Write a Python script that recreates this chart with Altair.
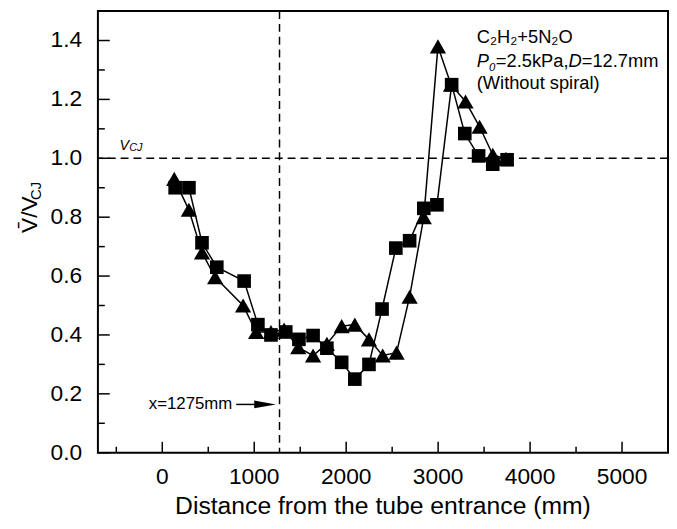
import altair as alt
import pandas as pd

# ---- data ----
sq_x = [140, 290, 432, 593, 890, 1040, 1182, 1343, 1486, 1640, 1790, 1951, 2094,
        2248, 2390, 2540, 2690, 2844, 2987, 3147, 3290, 3440, 3594, 3750]
sq_y = [0.90, 0.90, 0.713, 0.63, 0.583, 0.435, 0.40, 0.41, 0.385, 0.398, 0.355, 0.307, 0.25,
        0.30, 0.488, 0.695, 0.72, 0.83, 0.842, 1.25, 1.084, 1.008, 0.98, 0.995]
tri_x = [130, 289, 432, 575, 879, 1021, 1182, 1325, 1479, 1640, 1790, 1951, 2094,
         2248, 2397, 2548, 2690, 2844, 2998, 3140, 3298, 3451, 3594, 3737]
tri_y = [0.93, 0.825, 0.68, 0.596, 0.50, 0.41, 0.41, 0.418, 0.358, 0.33, 0.37, 0.43, 0.435,
         0.385, 0.33, 0.34, 0.53, 0.80, 1.38, 1.25, 1.193, 1.107, 1.012, 0.998]

x_major = [0, 1000, 2000, 3000, 4000, 5000]
x_minor = [-500, 500, 1500, 2500, 3500, 4500]
y_major = [0.0, 0.2, 0.4, 0.6, 0.8, 1.0, 1.2, 1.4]
y_minor = [0.1, 0.3, 0.5, 0.7, 0.9, 1.1, 1.3]
x_labels = ["0", "1000", "2000", "3000", "4000", "5000"]
y_labels = ["0.0", "0.2", "0.4", "0.6", "0.8", "1.0", "1.2", "1.4"]
x_title = "Distance from the tube entrance (mm)"

x_mark = 1275
v_cj = 1.0

FONT = "Liberation Sans"
W, H = 577, 447

df = pd.DataFrame({
    "x": sq_x + tri_x,
    "y": sq_y + tri_y,
    "s": ["sq"] * len(sq_x) + ["tri"] * len(tri_x),
})

xs = alt.Scale(domain=[-700, 5500], nice=False, zero=False)
ys = alt.Scale(domain=[0, 1.5], nice=False, zero=False)

base = alt.Chart(df)
lines = base.mark_line(color="black", strokeWidth=1.5).encode(
    x=alt.X("x:Q", scale=xs, axis=None),
    y=alt.Y("y:Q", scale=ys, axis=None),
    detail="s:N",
    order="x:Q",
)
points = base.mark_point(filled=True, color="black", opacity=1).encode(
    x=alt.X("x:Q", axis=None),
    y=alt.Y("y:Q", axis=None),
    shape=alt.Shape("s:N", scale=alt.Scale(domain=["sq", "tri"], range=["square", "triangle-up"]), legend=None),
    size=alt.Size("s:N", scale=alt.Scale(domain=["sq", "tri"], range=[190, 270]), legend=None),
)

hline = alt.Chart(pd.DataFrame({"v": [v_cj]})).mark_rule(
    color="black", strokeWidth=1.5, strokeDash=[8, 5]).encode(y=alt.Y("v:Q", axis=None))
vline = alt.Chart(pd.DataFrame({"v": [x_mark]})).mark_rule(
    color="black", strokeWidth=1.5, strokeDash=[8, 5]).encode(x=alt.X("v:Q", axis=None))

# inward ticks
xt_maj = alt.Chart(pd.DataFrame({"v": x_major})).mark_rule(color="black", strokeWidth=1.5).encode(
    x=alt.X("v:Q", axis=None), y=alt.value(H), y2=alt.value(H - 11))
xt_min = alt.Chart(pd.DataFrame({"v": x_minor})).mark_rule(color="black", strokeWidth=1.5).encode(
    x=alt.X("v:Q", axis=None), y=alt.value(H), y2=alt.value(H - 6))
yt_maj = alt.Chart(pd.DataFrame({"v": y_major})).mark_rule(color="black", strokeWidth=1.5).encode(
    y=alt.Y("v:Q", axis=None), x=alt.value(0), x2=alt.value(12))
yt_min = alt.Chart(pd.DataFrame({"v": y_minor})).mark_rule(color="black", strokeWidth=1.5).encode(
    y=alt.Y("v:Q", axis=None), x=alt.value(0), x2=alt.value(7))

# tick labels
xl = alt.Chart(pd.DataFrame({"v": x_major, "t": x_labels})).mark_text(
    font=FONT, fontSize=23, align="center", baseline="alphabetic", color="black").encode(
    x=alt.X("v:Q", axis=None), y=alt.value(H + 32), text="t:N")
yl = alt.Chart(pd.DataFrame({"v": y_major, "t": y_labels})).mark_text(
    font=FONT, fontSize=23, align="right", baseline="middle", color="black").encode(
    y=alt.Y("v:Q", axis=None), x=alt.value(-16), text="t:N")


def txt(text, x, y, size, dx=0, dy=0, italic=False, align="left", baseline="alphabetic"):
    return alt.Chart(pd.DataFrame({"t": [text], "px": [x], "py": [y]})).mark_text(
        font=FONT, fontSize=size, fontStyle="italic" if italic else "normal",
        align=align, baseline=baseline, dx=dx, dy=dy, color="black").encode(
        x=alt.X("px:Q", axis=None), y=alt.Y("py:Q", axis=None), text="t:N")


def ptxt(text, x, y, size, angle=0, italic=False, align="center", baseline="alphabetic"):
    return alt.Chart(pd.DataFrame({"t": [text]})).mark_text(
        font=FONT, fontSize=size, fontStyle="italic" if italic else "normal",
        align=align, baseline=baseline, angle=angle, color="black").encode(
        x=alt.value(x), y=alt.value(y), text="t:N")


fs = 18.5
ax0 = 3420
o1 = 0.667 * fs + 7
o2 = o1 + 3.975 * fs
o3 = o2 + 0.722 * fs
ann = [
    txt("C\u2082H\u2082+5N\u2082O", ax0, 1.392, fs),
    txt("P", ax0, 1.311, fs, italic=True),
    txt("0", ax0, 1.311, 11.5, dx=0.667 * fs, dy=4, italic=True),
    txt("=2.5kPa,", ax0, 1.311, fs, dx=o1),
    txt("D", ax0, 1.311, fs, italic=True, dx=o2),
    txt("=12.7mm", ax0, 1.311, fs, dx=o3),
    txt("(Without spiral)", ax0, 1.235, fs),
    txt("V", -465, 1.027, 14.5, italic=True),
    txt("CJ", -360, 1.027, 11, dy=1, italic=True),
    txt("x=1275mm", 761, 0.164, 17, align="right", baseline="middle"),
    ptxt("V\u0304/V", -62, 206, 23, angle=270),
    ptxt("CJ", -58, 182, 15, angle=270),
    ptxt(x_title, W / 2, H + 62, 25),
]

arrow_line = alt.Chart(pd.DataFrame({"a": [804], "b": [1118], "y": [0.164]})).mark_rule(
    color="black", strokeWidth=1.5).encode(x=alt.X("a:Q", axis=None), x2="b:Q", y=alt.Y("y:Q", axis=None))
arrow_head = alt.Chart(pd.DataFrame({"a": [1118], "y": [0.164]})).mark_point(
    filled=True, color="black", opacity=1, shape="M-1,-0.36L1,0L-1,0.36Z", size=484).encode(
    x=alt.X("a:Q", axis=None), y=alt.Y("y:Q", axis=None))

chart = alt.layer(
    lines, hline, vline, xt_maj, xt_min, yt_maj, yt_min, xl, yl, points, arrow_line, arrow_head, *ann
).properties(
    width=W, height=H,
    autosize=alt.AutoSizeParams(type="none"),
    padding={"left": 91, "top": 0, "right": 1, "bottom": 66},
).configure(
    font=FONT, background="white",
    view=alt.ViewConfig(stroke="black", strokeWidth=2),
)

chart.save("out.html", embed_options={"renderer": "svg", "actions": False})
